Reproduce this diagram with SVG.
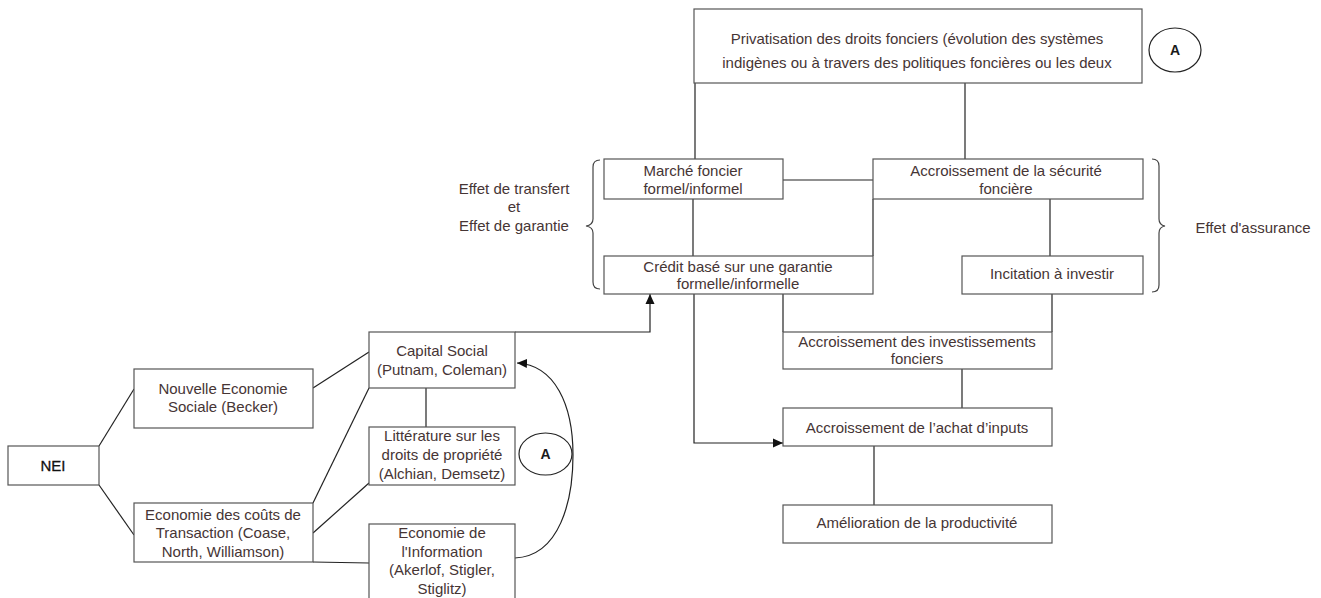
<svg xmlns="http://www.w3.org/2000/svg" width="1321" height="598" viewBox="0 0 1321 598">
<defs>
<style>
.box{fill:#fff;stroke:#555;stroke-width:1.2}
.t{font-family:"Liberation Sans",Arial,sans-serif;font-size:15px;fill:#463535;text-anchor:middle}
.b{font-family:"Liberation Sans",Arial,sans-serif;font-size:14px;font-weight:bold;fill:#1a1a1a;text-anchor:middle}
.ln{fill:none;stroke:#222;stroke-width:1.2}
.br{fill:none;stroke:#444;stroke-width:1.2}
</style>
<marker id="ah" viewBox="0 0 10 10" refX="10" refY="5" markerWidth="10" markerHeight="10" markerUnits="userSpaceOnUse" orient="auto">
<path d="M0,0.5 L10,5 L0,9.5 z" fill="#111"/>
</marker>
</defs>
<rect width="1321" height="598" fill="#fff"/>

<g id="connectors">
<path class="ln" d="M695,83 V159"/>
<path class="ln" d="M965,83 V159"/>
<path class="ln" d="M783,180 H873"/>
<path class="ln" d="M693,199 V256"/>
<path class="ln" d="M873,199 V256"/>
<path class="ln" d="M1050,199 V256"/>
<path class="ln" d="M783,294 V332"/>
<path class="ln" d="M1052,294 V332"/>
<path class="ln" d="M962,369 V408"/>
<path class="ln" d="M694,294 V443 H783" marker-end="url(#ah)"/>
<path class="ln" d="M874,446 V505"/>
<path class="ln" d="M515,332 H650 V294" marker-end="url(#ah)"/>
<path class="ln" d="M99,446 L134,389"/>
<path class="ln" d="M99,485 L134,535"/>
<path class="ln" d="M313,388 L369,352"/>
<path class="ln" d="M313,503 L369,388"/>
<path class="ln" d="M313,533 L369,483"/>
<path class="ln" d="M313,562 L369,563"/>
<path class="ln" d="M426,388 V427"/>
<path class="ln" d="M515,558 C560,556 573,500 573,455 C573,405 555,365 517,363" marker-end="url(#ah)"/>
</g>

<g id="brace-left">
<path class="br" d="M600,160 Q593,160 593,167 V219 Q593,225 586,226 Q593,227 593,233 V282 Q593,289 600,289"/>
<text class="t" x="514" y="194">Effet de transfert</text>
<text class="t" x="514" y="212">et</text>
<text class="t" x="514" y="231">Effet de garantie</text>
</g>

<g id="brace-right">
<path class="br" d="M1152,159 Q1159,159 1159,166 V219 Q1159,225 1165,226 Q1159,227 1159,233 V285 Q1159,292 1152,292"/>
<text class="t" x="1253" y="233">Effet d'assurance</text>
</g>

<g id="privatisation">
<rect class="box" x="694" y="9" width="448" height="74"/>
<text class="t" x="917" y="44">Privatisation des droits fonciers (évolution des systèmes</text>
<text class="t" x="917" y="68">indigènes ou à travers des politiques foncières ou les deux</text>
</g>

<g id="circle-a-top">
<ellipse cx="1175" cy="50" rx="26" ry="22" fill="#fff" stroke="#222" stroke-width="1.2"/>
<text class="b" x="1175" y="55">A</text>
</g>

<g id="marche">
<rect class="box" x="604" y="159" width="179" height="40"/>
<text class="t" x="693" y="176">Marché foncier</text>
<text class="t" x="693" y="194">formel/informel</text>
</g>

<g id="securite">
<rect class="box" x="873" y="159" width="270" height="40"/>
<text class="t" x="1006" y="176">Accroissement de la sécurité</text>
<text class="t" x="1006" y="194">foncière</text>
</g>

<g id="credit">
<rect class="box" x="604" y="256" width="269" height="38"/>
<text class="t" x="738" y="272">Crédit basé sur une garantie</text>
<text class="t" x="738" y="289">formelle/informelle</text>
</g>

<g id="incitation">
<rect class="box" x="962" y="256" width="181" height="38"/>
<text class="t" x="1052" y="279">Incitation à investir</text>
</g>

<g id="investissements">
<rect class="box" x="783" y="332" width="269" height="37"/>
<text class="t" x="917" y="347">Accroissement des investissements</text>
<text class="t" x="917" y="364">fonciers</text>
</g>

<g id="achat">
<rect class="box" x="783" y="408" width="269" height="38"/>
<text class="t" x="917" y="433">Accroissement de l’achat d’inputs</text>
</g>

<g id="amelioration">
<rect class="box" x="783" y="505" width="269" height="38"/>
<text class="t" x="917" y="528">Amélioration de la productivité</text>
</g>

<g id="nei">
<rect class="box" x="8" y="446" width="91" height="39"/>
<text class="b" x="53" y="471" style="font-size:15px;font-weight:normal;fill:#111;stroke:#111;stroke-width:0.3">NEI</text>
</g>

<g id="nouvelle">
<rect class="box" x="134" y="369" width="179" height="59"/>
<text class="t" x="223" y="394">Nouvelle Economie</text>
<text class="t" x="223" y="412">Sociale (Becker)</text>
</g>

<g id="couts">
<rect class="box" x="134" y="503" width="179" height="59"/>
<text class="t" x="223" y="520">Economie des coûts de</text>
<text class="t" x="223" y="538">Transaction (Coase,</text>
<text class="t" x="223" y="557">North, Williamson)</text>
</g>

<g id="capital">
<rect class="box" x="369" y="332" width="146" height="56"/>
<text class="t" x="442" y="356">Capital Social</text>
<text class="t" x="442" y="375">(Putnam, Coleman)</text>
</g>

<g id="litterature">
<rect class="box" x="369" y="427" width="146" height="58"/>
<text class="t" x="442" y="441">Littérature sur les</text>
<text class="t" x="442" y="460">droits de propriété</text>
<text class="t" x="442" y="479">(Alchian, Demsetz)</text>
</g>

<g id="information">
<rect class="box" x="369" y="524" width="146" height="80"/>
<text class="t" x="442" y="538">Economie de</text>
<text class="t" x="442" y="557">l'Information</text>
<text class="t" x="442" y="575">(Akerlof, Stigler,</text>
<text class="t" x="442" y="594">Stiglitz)</text>
</g>

<g id="circle-a-bottom">
<ellipse cx="545.5" cy="454" rx="26.5" ry="21" fill="#fff" stroke="#222" stroke-width="1.2"/>
<text class="b" x="545.5" y="459">A</text>
</g>
</svg>
